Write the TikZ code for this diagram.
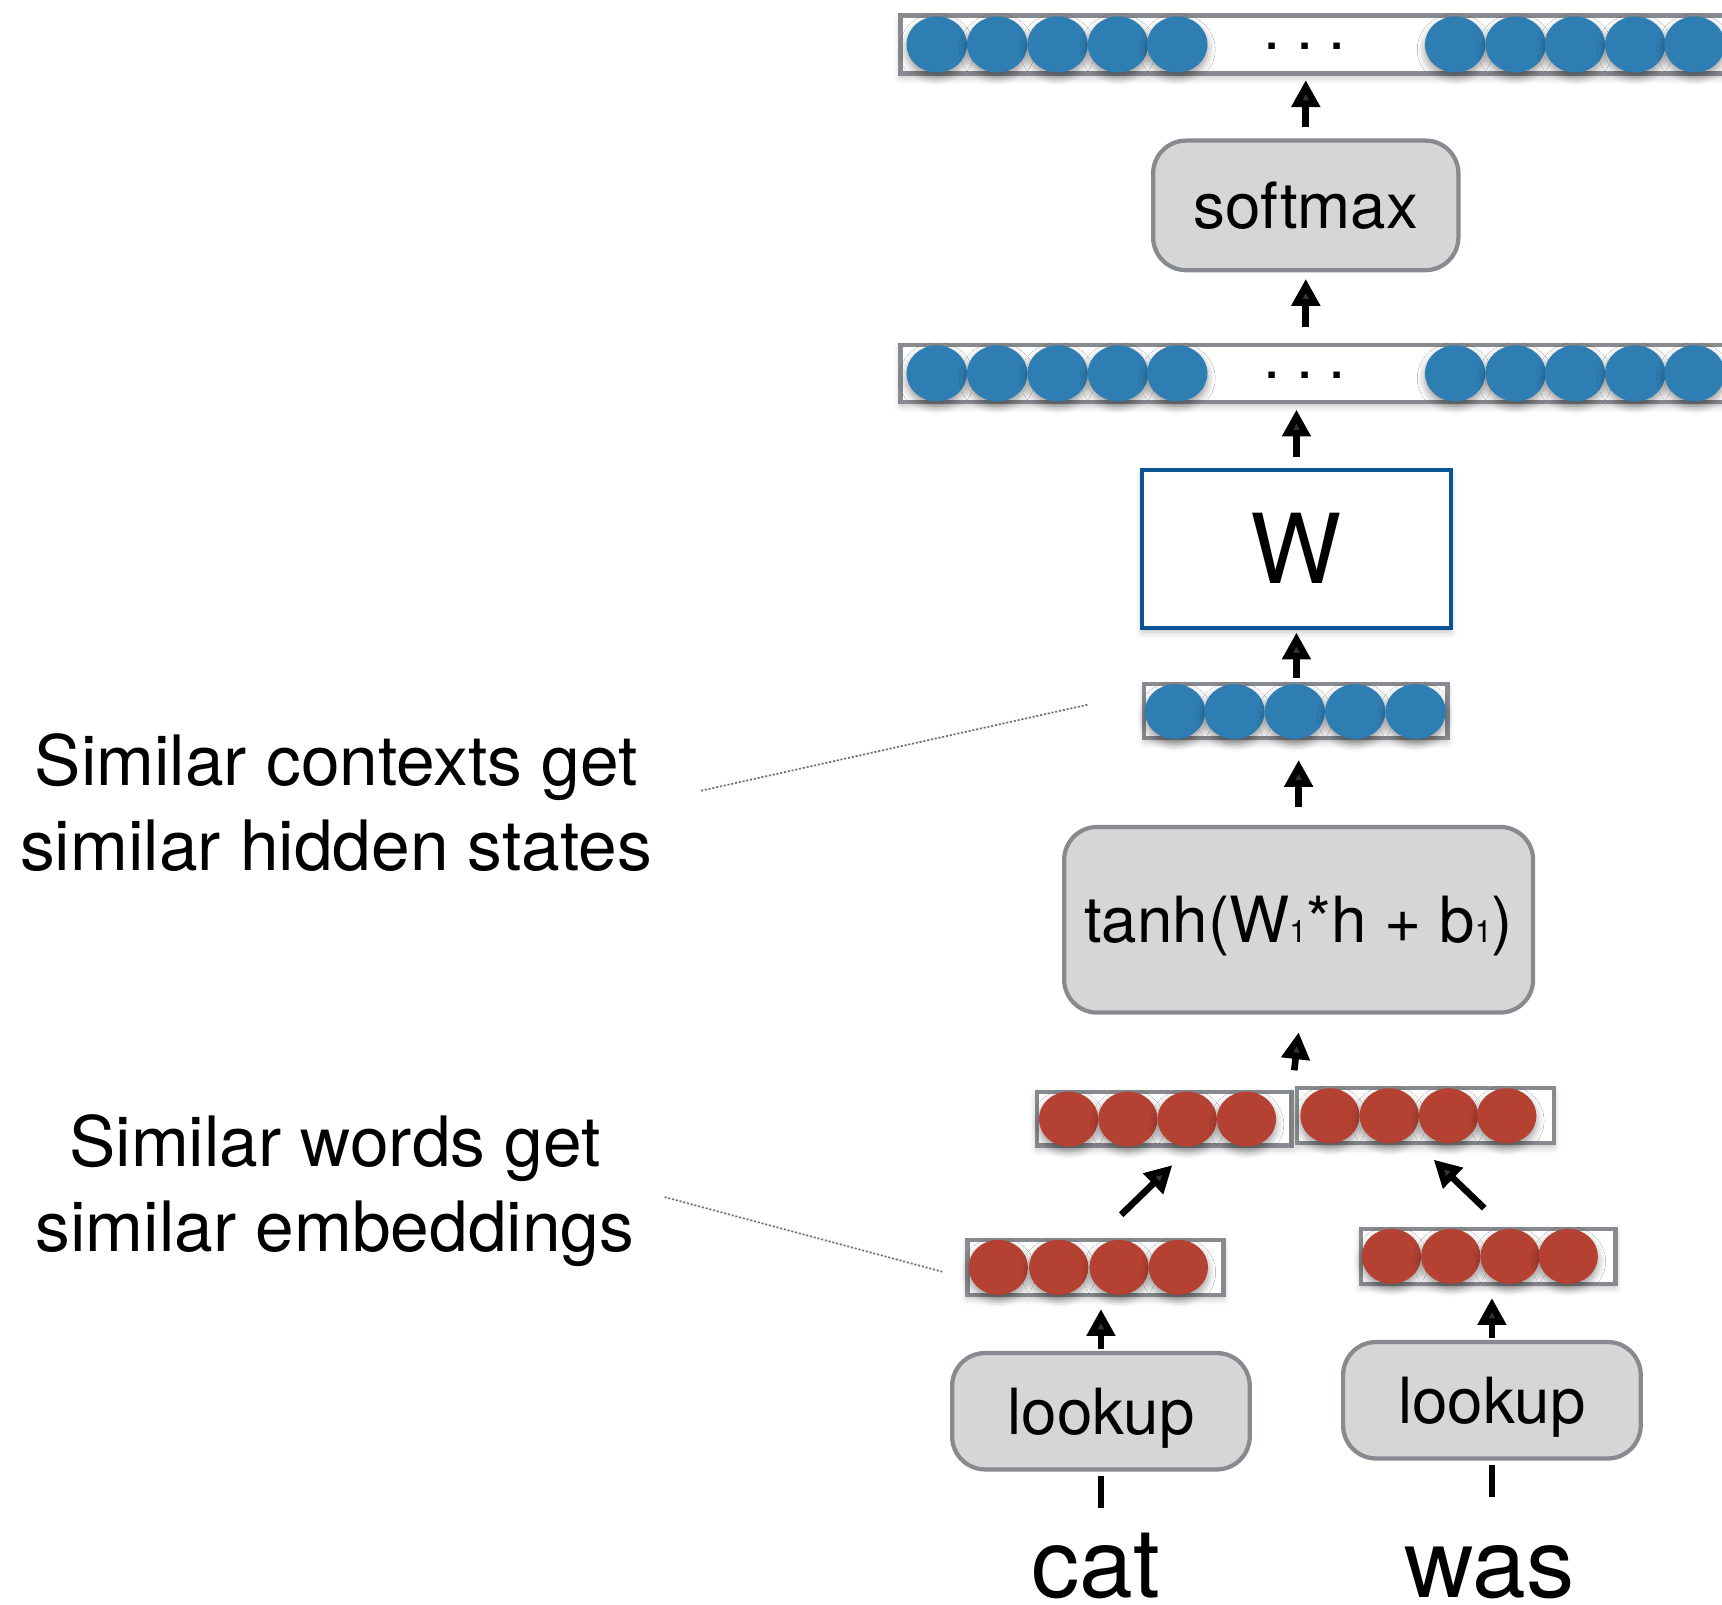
\documentclass[tikz,border=0pt]{standalone}
\usepackage{fontspec}
\setmainfont{TeX Gyre Heros}
\usetikzlibrary{calc,fit,arrows.meta,shadows.blur}

\definecolor{unitblue}{HTML}{2E7EB4}
\definecolor{unitred}{HTML}{B44131}
\definecolor{framegrey}{HTML}{878A8E}
\definecolor{opfill}{HTML}{D6D6D6}
\definecolor{wblue}{HTML}{0B5495}
\definecolor{leadergrey}{HTML}{6F7277}

\tikzset{
  vecframe/.style={draw=framegrey, line width=1.1pt, fill=white, inner sep=0pt,
    blur shadow={shadow xshift=0pt, shadow yshift=-0.35mm, shadow blur radius=0.6mm, shadow opacity=25}},
  unitshadow/.style={blur shadow={shadow xshift=0pt, shadow yshift=-0.45mm, shadow blur radius=0.7mm, shadow opacity=40}},
  opbox/.style={draw=framegrey, line width=1.1pt, fill=opfill, rounded corners=3mm,
    inner sep=0pt, text height=11.9pt, text depth=0pt,
    font=\fontsize{16.5}{18}\selectfont},
  matbox/.style={draw=wblue, line width=1.1pt, fill=white, inner sep=0pt,
    text height=18pt, text depth=0pt, font=\fontsize{25}{27}\selectfont,
    blur shadow={shadow xshift=0pt, shadow yshift=-0.35mm, shadow blur radius=0.6mm, shadow opacity=25}},
  arr/.style={line width=0.6mm, -{Triangle[length=2.45mm,width=2.5mm]}},
  feed/.style={line width=0.6mm},
  leader/.style={draw=leadergrey, line width=0.45pt, dash pattern=on 0.55pt off 0.45pt},
  note/.style={align=center, inner sep=0pt, font=\fontsize{18}{21.9}\selectfont},
  word/.style={inner sep=0pt, font=\fontsize{25}{27}\selectfont},
  ellipsis/.style={inner sep=0pt, font=\fontsize{16}{18}\selectfont},
}

\begin{document}
\begin{tikzpicture}[x=0.1mm, y=-0.1mm]
\useasboundingbox (0,0) rectangle (1568,1461);
\clip (0,0) rectangle (1568,1461);

% ---------- output layer (top) ----------
\node[vecframe, fit={(820,14) (1590,67)}] (out) {};
\foreach \x in {853,908,963,1018,1072,1325,1380,1434,1489,1543}
  \fill[unitblue, unitshadow] (\x,40.5) ellipse [x radius=27.5, y radius=25.5];
\node[ellipsis, anchor=base] (outdots) at (1188,45.5) {.\hspace{3.9pt}.\hspace{3.9pt}.};

% ---------- softmax ----------
\node[opbox, minimum width=27.8mm, minimum height=11.8mm] (softmax) at (1189,187) {softmax};

% ---------- score layer ----------
\node[vecframe, fit={(820,314) (1590,366)}] (score) {};
\foreach \x in {853,908,963,1018,1072,1325,1380,1434,1489,1543}
  \fill[unitblue, unitshadow] (\x,340) ellipse [x radius=27.5, y radius=25.5];
\node[ellipsis, anchor=base] (scoredots) at (1188,345) {.\hspace{3.9pt}.\hspace{3.9pt}.};

% ---------- output weights ----------
\node[matbox, minimum width=28.1mm, minimum height=14.4mm] (W) at (1180.5,500) {W};

% ---------- hidden layer ----------
\node[vecframe, fit={(1042,623) (1318,672)}] (hid) {};
\foreach \x in {1070,1124,1179,1234,1289}
  \fill[unitblue, unitshadow] (\x,648) ellipse [x radius=27.5, y radius=25];

% ---------- hidden transform ----------
\node[opbox, minimum width=42.7mm, minimum height=16.9mm] (tanh) at (1182.5,837.5)
  {tanh(W{\fontsize{8}{8}\selectfont 1}*h + b{\fontsize{8}{8}\selectfont 1})};

% ---------- concatenated embeddings ----------
\node[vecframe, fit={(944,994) (1176,1043)}] (catL) {};
\foreach \x in {973,1027,1081,1135}
  \fill[unitred, unitshadow] (\x,1019) ellipse [x radius=27, y radius=25];
\node[vecframe, fit={(1181,991) (1415,1041)}] (catR) {};
\foreach \x in {1211,1265,1319,1372}
  \fill[unitred, unitshadow] (\x,1016) ellipse [x radius=27, y radius=25];

% ---------- word embeddings ----------
\node[vecframe, fit={(881,1129) (1114,1179)}] (embL) {};
\foreach \x in {909,964,1019,1073}
  \fill[unitred, unitshadow] (\x,1154) ellipse [x radius=27, y radius=25];
\node[vecframe, fit={(1239,1119) (1471,1169)}] (embR) {};
\foreach \x in {1267,1321,1375,1428}
  \fill[unitred, unitshadow] (\x,1144) ellipse [x radius=27, y radius=25];

% ---------- lookups and input words ----------
\node[opbox, minimum width=27.1mm, minimum height=10.6mm] (lookL) at (1002.5,1285) {lookup};
\node[opbox, minimum width=27.1mm, minimum height=10.6mm] (lookR) at (1358.5,1275) {lookup};
\node[word, anchor=base] (cat) at (998,1455) {cat};
\node[word, anchor=base] (was) at (1356,1455) {was};

% ---------- annotations ----------
\node[note] (ctxnote) at (306,731) {Similar contexts get\\similar hidden states};
\node[note] (wordnote) at (305,1084) {Similar words get\\similar embeddings};

% ---------- connectors ----------
\draw[arr] ($(softmax.north)+(0,-10)$) -- ($(softmax.north |- out.south)+(0,4)$);
\draw[arr] ($(score.north -| softmax.south)+(0,-14)$) -- ($(softmax.south)+(0,6)$);
\draw[arr] ($(W.north)+(0,-10)$) -- ($(W.north |- score.south)+(0,5)$);
\draw[arr] ($(W.south |- hid.north)+(0,-4)$) -- ($(W.south)+(0,2)$);
\draw[arr] ($(tanh.north)+(0,-16)$) -- ($(tanh.north |- hid.south)+(0,18)$);
\draw[arr] ($(catL.north east)!0.5!(catR.north west)+(0,-16)$) -- ($(tanh.south)+(0,16)$);
\draw[arr] ($(embL.north east)+(-95,-21)$) -- ($(catL.south)+(7.5,16)$);
\draw[arr] ($(embR.north)+(-3.5,-17)$) -- ($(catR.south)+(7.5,13)$);
\draw[arr] ($(lookL.north)+(0,-2)$) -- ($(lookL.north |- embL.south)+(0,11)$);
\draw[arr] ($(lookR.north)+(0,-2)$) -- ($(lookR.north |- embR.south)+(0,11)$);
\draw[feed] ($(lookL.south)+(0,4)$) -- ($(lookL.south)+(0,33)$);
\draw[feed] ($(lookR.south)+(0,4)$) -- ($(lookR.south)+(0,33)$);

\draw[leader] ($(ctxnote.east)+(44,-11)$) -- ($(hid.west)+(-49,-6)$);
\draw[leader] ($(wordnote.east)+(27,6)$) -- ($(embL.west)+(-21,4)$);
\end{tikzpicture}
\end{document}
